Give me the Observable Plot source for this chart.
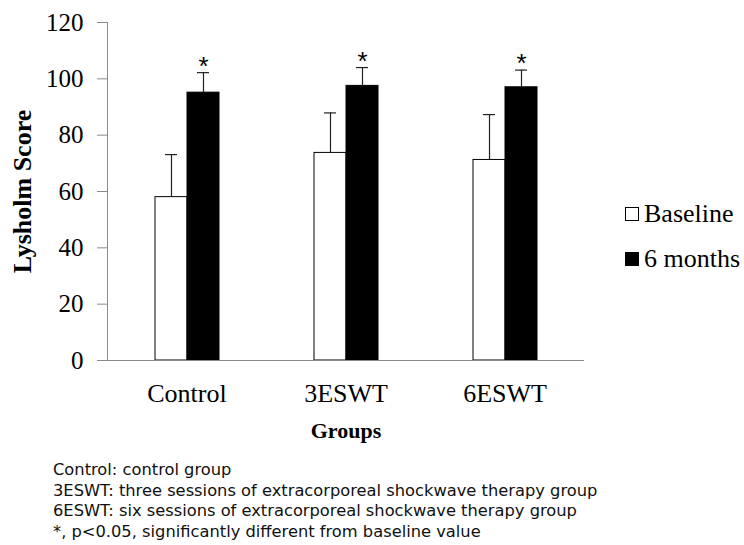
<!DOCTYPE html>
<html>
<head>
<meta charset="utf-8">
<script src="https://cdn.jsdelivr.net/npm/d3@7"></script>
<script src="https://cdn.jsdelivr.net/npm/@observablehq/plot@0.6"></script>
<style>
  body { margin: 0; background: #fff; }
  #wrap { position: relative; width: 744px; }
  #legend { position: absolute; left: 625px; top: 191px; font-family: "Liberation Serif", "Times New Roman", serif; font-size: 26px; color: #000; }
  #legend .row { display: flex; align-items: center; height: 45px; }
  #legend .sw { width: 14px; height: 14px; border: 1px solid #000; margin-right: 5px; box-sizing: border-box; }
  #legend .lbl { font-family: "Liberation Serif", serif; }
  #caption { font-family: "DejaVu Sans", "Noto Sans", sans-serif; font-size: 16.3px; line-height: 20.5px; margin-left: 53px; color: #111; }
</style>
</head>
<body>
<div id="wrap"></div>
<script>
const groups = ["Control", "3ESWT", "6ESWT"];
const series = ["Baseline", "6 months"];
const seriesFill = ["white", "black"];
const baselineMean = [58.0, 73.7, 71.2];
const baselineSD = [15.1, 14.2, 16.1];
const sixMonthMean = [95.1, 97.5, 97.0];
const sixMonthSD = [7.1, 6.5, 6.1];
const significant = [true, true, true];
const yTicks = [0, 20, 40, 60, 80, 100, 120];
const captionLines = [
  "Control: control group",
  "3ESWT: three sessions of extracorporeal shockwave therapy group",
  "6ESWT: six sessions of extracorporeal shockwave therapy group",
  "*, p<0.05, significantly different from baseline value"
];

const rows = [];
groups.forEach((g, i) => {
  rows.push({group: g, series: series[0], mean: baselineMean[i], sd: baselineSD[i], fill: seriesFill[0], sig: false});
  rows.push({group: g, series: series[1], mean: sixMonthMean[i], sd: sixMonthSD[i], fill: seriesFill[1], sig: significant[i]});
});

const serif = "'Liberation Serif', 'Times New Roman', serif";

const chart = Plot.plot({
  width: 744,
  height: 460,
  marginLeft: 107,
  marginRight: 160,
  marginTop: 22,
  marginBottom: 100,
  style: {fontFamily: serif, fontSize: "25px", color: "black", background: "white"},
  fx: {domain: groups, padding: 0, label: null},
  x: {domain: series, paddingInner: 0, paddingOuter: 1.446, axis: null},
  y: {domain: [0, 120], label: null},
  marks: [
    Plot.frame({anchor: "left", stroke: "#8a8a8a", facetAnchor: "left"}),
    Plot.barY(rows, {fx: "group", x: "series", y: "mean", fill: "fill", stroke: "black", strokeWidth: 1}),
    Plot.ruleX(rows, {fx: "group", x: "series", y1: "mean", y2: d => d.mean + d.sd, stroke: "#222", strokeWidth: 1.2}),
    Plot.tickY(rows, {fx: "group", x: "series", y: d => d.mean + d.sd, stroke: "#222", strokeWidth: 1.2, insetLeft: 10, insetRight: 10}),
    Plot.text(rows.filter(d => d.sig), {fx: "group", x: "series", y: d => d.mean + d.sd, text: () => "*", dy: 2, lineAnchor: "bottom", fontFamily: "'Liberation Sans', Arial, sans-serif", fontSize: 26}),
    Plot.ruleY([0], {stroke: "#8a8a8a", strokeWidth: 1.2}),
    Plot.axisY({ticks: yTicks, tickSize: 10, tickPadding: 14, stroke: "#8a8a8a", fill: "black", fontSize: 25, label: null}),
    Plot.axisFx({anchor: "bottom", tickSize: 0, tickPadding: 23, fontSize: 26, label: null}),
    Plot.text(["Groups"], {frameAnchor: "bottom", dy: 77, fontWeight: "bold", fontSize: 22, facetAnchor: "bottom", fx: () => groups[1]}),
    Plot.text(["Lysholm Score"], {frameAnchor: "left", textAnchor: "middle", dx: -85, rotate: -90, fontWeight: "bold", fontSize: 26, facetAnchor: "left"})
  ]
});

const wrap = document.getElementById("wrap");
wrap.appendChild(chart);

const legend = document.createElement("div");
legend.id = "legend";
series.forEach((s, i) => {
  const row = document.createElement("div");
  row.className = "row";
  const sw = document.createElement("span");
  sw.className = "sw";
  sw.style.background = seriesFill[i];
  const t = document.createElement("span");
  t.className = "lbl";
  t.textContent = s;
  row.appendChild(sw);
  row.appendChild(t);
  legend.appendChild(row);
});
wrap.appendChild(legend);

const cap = document.createElement("div");
cap.id = "caption";
captionLines.forEach(l => {
  const d = document.createElement("div");
  d.textContent = l;
  cap.appendChild(d);
});
wrap.appendChild(cap);
</script>
</body>
</html>
